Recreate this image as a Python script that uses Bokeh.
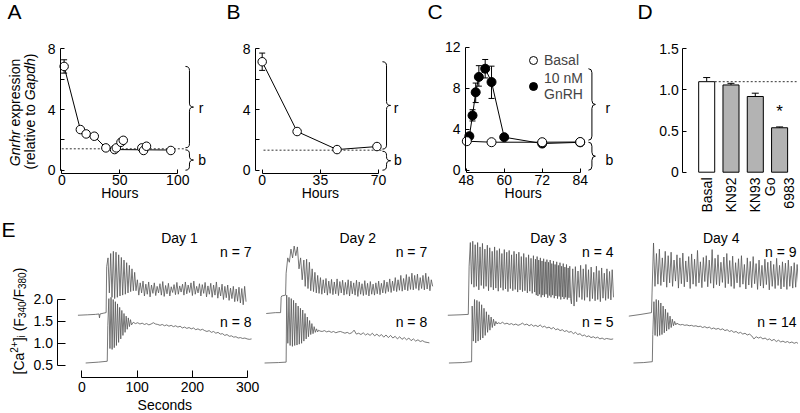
import math
import numpy as np
from bokeh.plotting import figure
from bokeh.layouts import column, row
from bokeh.models import (Label, FixedTicker, Whisker, TeeHead, ColumnDataSource,
                          Legend, LegendItem, Range1d)
from bokeh.embed import file_html
from bokeh.resources import INLINE

FONT = "Liberation Sans"
TRACE = "#555555"

# ---------------- Panel A ----------------
A_hours = [2, 16, 21, 28, 38, 45.5, 47, 51, 53, 69, 70.5, 73, 94]
A_expr = [6.84, 2.68, 2.39, 2.24, 1.47, 1.36, 1.47, 1.84, 1.97, 1.47, 1.30, 1.58, 1.30]
A_line_hours = [2, 16, 21, 28, 38, 45.5, 94]
A_line_expr = [6.84, 2.68, 2.39, 2.24, 1.47, 1.36, 1.33]
A_err_hours = [2]
A_err_low = [6.40]
A_err_high = [7.28]
A_baseline = 1.41

# ---------------- Panel B ----------------
B_hours = [0, 21, 45, 69]
B_expr = [7.15, 2.55, 1.36, 1.56]
B_err_hours = [0]
B_err_low = [6.58]
B_err_high = [7.72]
B_baseline = 1.32

# ---------------- Panel C ----------------
C_basal_h = [48.2, 56, 72, 84]
C_basal_v = [2.83, 2.73, 2.73, 2.75]
C_gnrh_h = [49, 50, 51, 52, 54, 56, 60, 72, 84]
C_gnrh_v = [3.32, 5.34, 7.6, 9.1, 9.9, 8.6, 3.22, 2.6, 2.72]
C_gnrh_lo = [3.05, 4.8, 6.6, 8.2, 9.0, 7.0, 3.0, 2.45, 2.6]
C_gnrh_hi = [3.6, 5.9, 8.5, 10.2, 10.8, 10.15, 3.45, 2.75, 2.85]

# ---------------- Panel D ----------------
D_labels = ["Basal", "KN92", "KN93", "Go\n6983"]
D_values = [1.10, 1.06, 0.92, 0.54]
D_err_high = [1.15, 1.08, 0.96, 0.55]
D_colors = ["white", "#b3b3b3", "#b3b3b3", "#b3b3b3"]

# ---------------- Panel E traces ----------------
# Day 1, n = 7
D1U_base_t = [-7, 10, 25, 31, 32, 33, 40, 44]
D1U_base_v = [1.64, 1.65, 1.66, 1.67, 1.58, 1.67, 1.69, 1.70]
D1U_osc1 = [2.75, 2.95, 2.15, 3.05, 2.05, 3.10, 2.02, 3.08, 2.05, 3.02, 2.08, 2.96, 2.10, 2.90,
            2.12, 2.84, 2.15, 2.78, 2.18, 2.70, 2.20, 2.62, 2.20]
D1U_osc2 = [2.45, 2.10, 2.38, 2.15, 2.42, 2.08, 2.35, 2.12, 2.40, 2.06, 2.33, 2.14, 2.38, 2.09,
            2.30, 2.15, 2.36, 2.10, 2.41, 2.07, 2.32, 2.13, 2.37, 2.08, 2.29, 2.16, 2.34, 2.11,
            2.39, 2.12, 2.31, 2.17, 2.35, 2.10, 2.40, 2.13, 2.33, 2.16, 2.38, 2.09, 2.42, 2.12,
            2.30, 2.15, 2.36, 2.08, 2.34, 2.14, 2.39, 2.06, 2.31, 2.12, 2.37, 2.05, 2.33, 2.10,
            2.40, 2.03, 2.28, 2.08, 2.35, 2.00, 2.30, 2.04, 2.33, 1.98, 2.26, 2.02, 2.30, 1.95,
            2.24, 1.96, 2.28, 1.92, 2.25, 1.88, 2.30, 1.95]
# Day 1, n = 8
D1L_base_t = [7, 30, 46]
D1L_base_v = [0.55, 0.57, 0.59]
D1L_osc1 = [1.40, 2.02, 0.88, 2.05, 0.86, 2.00, 0.90, 1.95, 0.95, 1.90, 1.02, 1.82, 1.10, 1.75,
            1.18, 1.68, 1.25, 1.62, 1.32, 1.58, 1.38, 1.54, 1.42]
D1L_plat = [1.48, 1.45, 1.47, 1.44, 1.46, 1.43, 1.45, 1.42, 1.44, 1.47, 1.44, 1.43, 1.41, 1.43,
            1.40, 1.42, 1.39, 1.41, 1.38, 1.40, 1.37, 1.39, 1.35, 1.37, 1.34, 1.36, 1.33, 1.35,
            1.31, 1.33, 1.30, 1.32, 1.29, 1.27, 1.29, 1.25, 1.27, 1.23, 1.25, 1.21, 1.22, 1.18,
            1.20, 1.16, 1.17, 1.14, 1.15, 1.12, 1.13, 1.11, 1.12, 1.10, 1.09, 1.10]
# Day 2, n = 7
D2U_base_t = [-7, 10, 19, 20, 21, 28]
D2U_base_v = [1.68, 1.70, 1.70, 2.05, 2.08, 2.10]
D2U_osc1 = [2.60, 2.95, 2.85, 3.15, 2.95, 3.22, 3.00, 3.20, 2.70, 2.95, 2.45, 2.90]
D2U_osc2 = [2.30, 2.92, 2.25, 2.85, 2.20, 2.70, 2.18, 2.62, 2.15, 2.55, 2.14, 2.50, 2.12, 2.45,
            2.15, 2.48, 2.10, 2.42, 2.14, 2.46, 2.11, 2.40, 2.13, 2.47, 2.09, 2.41, 2.15, 2.44,
            2.10, 2.39, 2.12, 2.45, 2.08, 2.42, 2.13, 2.38, 2.10, 2.44, 2.07, 2.40, 2.12, 2.36,
            2.09, 2.43, 2.11, 2.37, 2.08, 2.41, 2.12, 2.35, 2.10, 2.38, 2.13, 2.42, 2.11, 2.37,
            2.15, 2.44, 2.14, 2.40, 2.18, 2.47, 2.16, 2.42, 2.20, 2.50, 2.18, 2.45, 2.21, 2.55,
            2.19, 2.48, 2.22, 2.57, 2.20, 2.52, 2.23, 2.60, 2.22, 2.55, 2.25, 2.58, 2.21, 2.50,
            2.25, 2.55, 2.22, 2.60, 2.24, 2.52, 2.20, 2.45, 2.30]
# Day 2, n = 8
D2L_base_t = [-10, 15, 29]
D2L_base_v = [0.55, 0.56, 0.57]
D2L_osc1 = [2.10, 1.00, 2.05, 0.95, 2.02, 0.93, 1.98, 0.95, 1.92, 0.96, 1.85, 0.98, 1.80, 1.00,
            1.76, 1.05, 1.68, 1.10, 1.60, 1.15, 1.52, 1.20, 1.45, 1.22, 1.38, 1.25, 1.33, 1.26, 1.30]
D2L_plat = [1.28, 1.27, 1.29, 1.26, 1.28, 1.25, 1.27, 1.24, 1.26, 1.27, 1.25, 1.23, 1.25, 1.22,
            1.24, 1.30, 1.21, 1.23, 1.20, 1.24, 1.19, 1.22, 1.18, 1.23, 1.17, 1.21, 1.16, 1.20,
            1.14, 1.19, 1.13, 1.18, 1.12, 1.16, 1.10, 1.15, 1.09, 1.13, 1.08, 1.12, 1.06, 1.10,
            1.05, 1.08, 1.04, 1.06, 1.03, 1.02, 1.01]
# Day 3, n = 4
D3U_base_t = [-7, 15, 30]
D3U_base_v = [1.64, 1.65, 1.66]
D3U_osc1 = [2.76, 3.30, 2.35, 3.33, 2.28, 3.25, 2.30, 3.30, 2.22, 3.20, 2.32, 3.28, 2.25, 3.15,
            2.30, 3.24, 2.20, 3.18, 2.28, 3.10, 2.22, 3.20, 2.26, 3.12, 2.19, 3.16, 2.27, 3.05,
            2.21, 3.14, 2.24, 3.08, 2.18, 3.12, 2.25, 3.02, 2.20, 3.10, 2.23, 3.04, 2.17, 3.08,
            2.22, 2.98, 2.18, 3.05, 2.20, 2.96, 2.15, 3.02, 2.19, 2.94, 2.14, 3.00, 2.17]
D3U_osc2 = [2.92, 2.10, 2.98, 2.08, 2.90, 2.12, 2.95, 2.05, 2.88, 2.10, 2.93, 2.06, 2.86, 2.12,
            2.91, 2.04, 2.85, 2.09, 2.90, 2.05, 2.82, 2.10, 2.88, 2.03, 2.80, 2.08, 2.86, 2.02,
            2.78, 2.07, 2.84, 2.00, 2.76, 2.06, 2.82, 2.01, 2.74, 2.05, 2.80, 2.00, 2.72, 2.04,
            2.76, 2.02]
D3U_osc3 = [1.90, 2.70, 1.85, 2.75, 1.95, 2.65, 2.05, 2.78, 2.00, 2.70, 1.98, 2.80, 2.05, 2.68,
            1.96, 2.74, 2.02, 2.62, 1.97, 2.76, 2.00, 2.66, 1.95, 2.72, 2.03, 2.60, 1.98, 2.70,
            2.02, 2.64, 1.99, 2.68, 2.05]
# Day 3, n = 5
D3L_base_t = [-5, 20, 36]
D3L_base_v = [0.55, 0.56, 0.58]
D3L_osc1 = [1.85, 1.05, 2.00, 1.01, 1.98, 1.05, 1.95, 1.08, 1.88, 1.12, 1.80, 1.18, 1.72, 1.25,
            1.65, 1.30, 1.60, 1.36, 1.55, 1.40, 1.50, 1.44]
D3L_plat = [1.47, 1.45, 1.48, 1.44, 1.46, 1.43, 1.45, 1.42, 1.44, 1.41, 1.43, 1.46, 1.42, 1.44,
            1.40, 1.43, 1.39, 1.41, 1.38, 1.42, 1.37, 1.39, 1.35, 1.37, 1.33, 1.36, 1.31, 1.33,
            1.29, 1.31, 1.27, 1.29, 1.25, 1.27, 1.22, 1.25, 1.20, 1.22, 1.17, 1.19, 1.15, 1.17,
            1.13, 1.15, 1.12, 1.14, 1.10, 1.12, 1.09, 1.11, 1.10, 1.09, 1.10]
# Day 4, n = 9
D4U_base_t = [-7, 15, 34]
D4U_base_v = [1.62, 1.66, 1.70]
D4U_osc1 = [2.15, 3.29, 2.30, 3.05, 2.35, 3.15, 2.32, 2.95, 2.40, 3.10, 2.28, 3.00, 2.38, 3.08,
            2.30, 2.90, 2.42, 3.02, 2.26, 2.95, 2.36, 3.06, 2.29, 2.88, 2.40, 2.98, 2.25, 3.04,
            2.35, 2.92, 2.30, 3.12, 2.38, 2.86, 2.27, 2.96, 2.41, 3.00, 2.29, 2.90, 2.37, 3.14,
            2.26, 2.94, 2.34, 3.02, 2.31, 2.85, 2.39, 2.97, 2.27, 3.05, 2.36, 2.89, 2.30, 2.99,
            2.25, 2.84, 2.38, 2.93, 2.28, 3.00, 2.35, 2.80, 2.24, 2.95, 2.33, 2.87, 2.27, 2.98,
            2.36, 2.82, 2.23, 2.90, 2.31, 2.78, 2.26, 2.92, 2.34, 2.85, 2.22, 2.88, 2.30, 2.80,
            2.25, 2.94, 2.32, 2.78, 2.24, 2.86, 2.29, 2.83, 2.23, 2.90, 2.30, 2.76, 2.26, 2.84,
            2.28, 2.80, 2.35]
# Day 4, n = 14
D4L_base_t = [1.4, 20, 35.5]
D4L_base_v = [0.55, 0.56, 0.58]
D4L_osc1 = [1.20, 1.95, 1.18, 2.00, 1.16, 1.98, 1.18, 1.92, 1.20, 1.85, 1.24, 1.78, 1.28, 1.70,
            1.32, 1.62, 1.36, 1.55, 1.40, 1.50, 1.42, 1.46]
D4L_plat = [1.44, 1.42, 1.43, 1.41, 1.42, 1.40, 1.41, 1.39, 1.40, 1.38, 1.39, 1.36, 1.38, 1.35,
            1.37, 1.33, 1.35, 1.32, 1.34, 1.31, 1.33, 1.29, 1.31, 1.27, 1.29, 1.25, 1.27, 1.23,
            1.25, 1.21, 1.23, 1.19, 1.21, 1.17, 1.10, 1.15, 1.12, 1.14, 1.10, 1.12, 1.08, 1.10,
            1.06, 1.09, 1.04, 1.07, 1.03, 1.05, 1.02, 1.04, 1.01, 1.03, 1.00, 1.02, 0.99]

E_days = ["Day 1", "Day 2", "Day 3", "Day 4"]
E_n_upper = ["n = 7", "n = 7", "n = 4", "n = 9"]
E_n_lower = ["n = 8", "n = 8", "n = 5", "n = 14"]


def assemble(base_t, base_v, segments):
    t = list(base_t)
    v = list(base_v)
    for t0, t1, vals in segments:
        t += list(np.linspace(t0, t1, len(vals)))
        v += list(vals)
    return t, v


# ---------------- helpers ----------------
def new_fig(width, height, xr, yr, xloc=None, yloc=None):
    p = figure(width=width, height=height, x_range=Range1d(*xr), y_range=Range1d(*yr),
               output_backend="svg", toolbar_location=None,
               x_axis_location=xloc, y_axis_location=yloc,
               min_border_left=0, min_border_right=0, min_border_top=0,
               min_border_bottom=0)
    p.outline_line_color = None
    p.grid.visible = False
    p.background_fill_color = "white"
    p.border_fill_color = "white"
    return p


def style_axis(ax, ticks, bounds, at, minor=None, overrides=None, tick_len=4, standoff=3):
    ax.fixed_location = at
    ax.ticker = FixedTicker(ticks=ticks, minor_ticks=minor or [])
    ax.bounds = bounds
    if overrides:
        ax.major_label_overrides = overrides
    ax.major_tick_in = tick_len
    ax.major_tick_out = 0
    ax.minor_tick_in = tick_len
    ax.minor_tick_out = 0
    ax.axis_line_color = "black"
    ax.major_tick_line_color = "black"
    ax.minor_tick_line_color = "black"
    ax.major_label_text_font = FONT
    ax.major_label_text_font_size = "14px"
    ax.major_label_text_color = "black"
    ax.major_label_standoff = standoff


def txt(p, fl, fb, sx, sy, text, size="14px", align="center", baseline="middle",
        angle=0.0, style="normal"):
    p.add_layout(Label(x=sx - fl, y=fb - sy, x_units="screen", y_units="screen", text=text,
                       text_font=FONT, text_font_size=size, text_align=align,
                       text_baseline=baseline, angle=angle, text_font_style=style,
                       text_color="black"))


def brace(p, x0, x1, ytop, ybot, r):
    xm = (x0 + x1) / 2.0
    ym = (ytop + ybot) / 2.0
    p.quadratic(x0=[x0, xm, xm, xm], y0=[ytop, ym + r, ym - r, ybot + r],
                x1=[xm, x1, x1, x0], y1=[ytop - r, ym, ym, ybot],
                cx=[xm, xm, xm, xm], cy=[ytop, ym, ym, ybot],
                line_color="black", line_width=1)
    p.segment(x0=[xm, xm], y0=[ytop - r, ym - r], x1=[xm, xm], y1=[ym + r, ybot + r],
              line_color="black", line_width=1)


def whisk(p, xs, lo, hi, size=6):
    src = ColumnDataSource(dict(x=xs, lo=lo, hi=hi))
    w = Whisker(base="x", lower="lo", upper="hi", source=src, line_color="black",
                line_width=1, upper_head=TeeHead(size=size, line_color="black", line_width=1),
                lower_head=TeeHead(size=size, line_color="black", line_width=1),
                level="underlay")
    p.add_layout(w)


PI2 = math.pi / 2
TOP_H = 217
BOT_H = 194
TOP_B = 218   # window y of the bottom of the top row
BOT_B = 412   # window y of the bottom of the lower row

# ---------------- Panel A ----------------
pA = new_fig(214, TOP_H, (-52.84, 131.64), (-3.118, 11.187), "below", "left")
style_axis(pA.yaxis[0], [0, 4, 8], (0, 8), -1.12, minor=[2, 6], standoff=5)
style_axis(pA.xaxis[0], [0, 50, 100], (0, 100), -0.185, standoff=2)
whisk(pA, A_err_hours, A_err_low, A_err_high)
pA.line([0, 106], [A_baseline, A_baseline], line_color="#333333", line_width=1, line_dash="2 2")
pA.line(A_line_hours, A_line_expr, line_color="black", line_width=1)
pA.scatter(A_hours, A_expr, size=8.5, marker="circle", fill_color="white", line_color="black",
           line_width=1)
rA = 4 / 15.17
brace(pA, 106.6, 113.5, A_expr[0], A_baseline + 0.07, rA)
brace(pA, 106.6, 113.5, A_baseline - 0.07, 0, rA)
flA = 1
txt(pA, flA, TOP_B, 201.7, 108, "r")
txt(pA, flA, TOP_B, 202.7, 160, "b")
txt(pA, flA, TOP_B, 120.3, 193, "Hours")
txt(pA, flA, TOP_B, 8, 0, "A", size="21px", align="left", baseline="top")
txt(pA, flA, TOP_B, 15, 166.7, "Gnrhr", align="left", angle=PI2, style="italic")
txt(pA, flA, TOP_B, 15, 127.0, "expression", align="left", angle=PI2)
txt(pA, flA, TOP_B, 30, 170.0, "(relative to", align="left", angle=PI2)
txt(pA, flA, TOP_B, 30, 100.8, "Gapdh", align="left", angle=PI2, style="italic")
txt(pA, flA, TOP_B, 30, 58.8, ")", align="left", angle=PI2)

# ---------------- Panel B ----------------
pB = new_fig(195, TOP_H, (-28.68, 88.57), (-3.118, 11.187), "below", "left")
style_axis(pB.yaxis[0], [0, 4, 8], (0, 8), -4.03, minor=[2, 6], standoff=5)
style_axis(pB.xaxis[0], [0, 35, 70], (0, 70), -0.185, standoff=2)
whisk(pB, B_err_hours, B_err_low, B_err_high)
pB.line([0.8, 72.4], [B_baseline, B_baseline], line_color="#333333", line_width=1, line_dash="2 2")
pB.line(B_hours, B_expr, line_color="black", line_width=1)
pB.scatter(B_hours, B_expr, size=8.5, marker="circle", fill_color="white", line_color="black",
           line_width=1)
brace(pB, 72.3, 77.2, B_expr[0], B_baseline + 0.07, rA)
brace(pB, 72.3, 77.2, B_baseline - 0.07, 0, rA)
flB = 215
txt(pB, flB, TOP_B, 396.7, 108, "r")
txt(pB, flB, TOP_B, 398.3, 160, "b")
txt(pB, flB, TOP_B, 320.9, 193, "Hours")
txt(pB, flB, TOP_B, 227, 0, "B", size="21px", align="left", baseline="top")

# ---------------- Panel C ----------------
pC = new_fig(205, TOP_H, (30.10, 94.83), (-4.615, 16.556), "below", "left")
style_axis(pC.yaxis[0], [0, 4, 8, 12], (0, 12), 47.78, standoff=5)
style_axis(pC.xaxis[0], [48, 60, 72, 84], (48, 84), -0.273, standoff=2)
whisk(pC, C_gnrh_h, C_gnrh_lo, C_gnrh_hi)
pC.line(C_gnrh_h, C_gnrh_v, line_color="black", line_width=1)
pC.line(C_basal_h, C_basal_v, line_color="black", line_width=1)
rg = pC.scatter(C_gnrh_h, C_gnrh_v, size=9, marker="circle", fill_color="black",
                line_color="black")
rb = pC.scatter(C_basal_h, C_basal_v, size=9, marker="circle", fill_color="white",
                line_color="black", line_width=1)
rC = 4 / 10.25
brace(pC, 86.6, 88.8, max(C_gnrh_v), C_basal_v[0] + 0.1, rC)
brace(pC, 86.6, 88.8, C_basal_v[0] - 0.1, 0, rC)
leg = Legend(items=[LegendItem(label="Basal", renderers=[rb]),
                    LegendItem(label="10 nM\nGnRH", renderers=[rg])],
             location=(114, 115), border_line_color=None, background_fill_alpha=0,
             padding=0, margin=0, spacing=0, label_text_font=FONT,
             label_text_font_size="14px", label_standoff=1, glyph_width=20,
             glyph_height=20, label_height=16)
pC.add_layout(leg)
flC = 410
txt(pC, flC, TOP_B, 608.3, 108, "r")
txt(pC, flC, TOP_B, 610, 160, "b")
txt(pC, flC, TOP_B, 523.7, 193, "Hours")
txt(pC, flC, TOP_B, 428, 0, "C", size="21px", align="left", baseline="top")

# ---------------- Panel D ----------------
pD = new_fig(184, TOP_H, (-3.794, 3.778), (-0.5504, 2.0863), None, "left")
style_axis(pD.yaxis[0], [0, 0.5, 1.0, 1.5], (0, 1.5), -0.984,
           overrides={0: "0", 0.5: "0.5", 1: "1.0", 1.5: "1.5"}, standoff=4)
D_x = list(range(len(D_values)))
pD.vbar(x=D_x, top=D_values, width=0.66, fill_color=D_colors, line_color="black", line_width=1)
srcD = ColumnDataSource(dict(x=D_x, lo=D_values, hi=D_err_high))
pD.add_layout(Whisker(base="x", lower="lo", upper="hi", source=srcD, line_color="black",
                      upper_head=TeeHead(size=7, line_color="black"), lower_head=None))
pD.line([0.33, 3.7], [D_values[0], D_values[0]], line_color="#333333", line_width=1,
        line_dash="2 2")
flD = 615
for i, lab in enumerate(D_labels):
    pD.add_layout(Label(x=D_x[i], y=TOP_B - 178, x_units="data", y_units="screen", text=lab,
                        text_font=FONT, text_font_size="14px", text_align="right",
                        text_baseline="middle", angle=PI2, text_color="black"))
pD.add_layout(Label(x=D_x[3], y=0.62, text="*", text_font=FONT, text_font_size="17px",
                    text_align="center", text_baseline="bottom", text_color="black"))
txt(pD, flD, TOP_B, 638, 0, "D", size="21px", align="left", baseline="top")

# ---------------- Panel E ----------------
E_yr = (-0.5571, 3.872)
pE1 = new_fig(262, BOT_H, (-147.02, 326.77), E_yr, "below", "left")
pE2 = new_fig(179, BOT_H, (-13.74, 309.95), E_yr)
pE3 = new_fig(182, BOT_H, (-18.44, 310.67), E_yr)
pE4 = new_fig(175, BOT_H, (-16.64, 299.82), E_yr)
style_axis(pE1.yaxis[0], [0.5, 1.0, 1.5, 2.0], (0.5, 2.0), -43.04,
           overrides={0.5: "0.5", 1: "1.0", 1.5: "1.5", 2: "2.0"}, tick_len=8, standoff=5)
style_axis(pE1.xaxis[0], [0, 100, 200, 300], (0, 300), 0.2123, tick_len=7, standoff=4)

traces = [
    (pE1, assemble(D1U_base_t, D1U_base_v, [(45, 98, D1U_osc1), (100.5, 297, D1U_osc2)])),
    (pE1, assemble(D1L_base_t, D1L_base_v, [(47, 90, D1L_osc1), (93, 307, D1L_plat)])),
    (pE2, assemble(D2U_base_t, D2U_base_v, [(29, 61, D2U_osc1), (63.5, 294, D2U_osc2)])),
    (pE2, assemble(D2L_base_t, D2L_base_v, [(30, 88, D2L_osc1), (90, 288, D2L_plat)])),
    (pE3, assemble(D3U_base_t, D3U_base_v, [(31.5, 150, D3U_osc1), (151.5, 215, D3U_osc2),
                                            (216.5, 292.6, D3U_osc3)])),
    (pE3, assemble(D3L_base_t, D3L_base_v, [(37, 82, D3L_osc1), (84, 292, D3L_plat)])),
    (pE4, assemble(D4U_base_t, D4U_base_v, [(35, 300, D4U_osc1)])),
    (pE4, assemble(D4L_base_t, D4L_base_v, [(36.3, 80, D4L_osc1), (82, 300, D4L_plat)])),
]
for fig, (tt, vv) in traces:
    fig.line(tt, vv, line_color=TRACE, line_width=0.8)

E_frames = [(pE1, 1, 180, 252), (pE2, 263, 358.3, 427.7), (pE3, 442, 549, 614),
            (pE4, 624, 721.7, 797)]
for k, (fig, fl, cx, rx) in enumerate(E_frames):
    txt(fig, fl, BOT_B, cx, 238, E_days[k])
    txt(fig, fl, BOT_B, rx, 252.7, E_n_upper[k], align="right")
    txt(fig, fl, BOT_B, rx, 322.7, E_n_lower[k], align="right")

txt(pE1, 1, BOT_B, 165.3, 405, "Seconds")
txt(pE1, 1, BOT_B, 2, 218, "E", size="21px", align="left", baseline="top")
# y label: [Ca2+]i (F340/F380)
yl = [("[Ca", 19, 375.0, "14px"), ("2+", 14, 353.2, "10px"), ("]", 19, 341.8, "14px"),
      ("i", 22, 337.9, "10px"), ("(F", 19, 331.8, "14px"), ("340", 22, 318.6, "10px"),
      ("/F", 19, 301.9, "14px"), ("380", 22, 289.5, "10px"), (")", 19, 272.8, "14px")]
for s, sx, sy, fs in yl:
    txt(pE1, 1, BOT_B, sx, sy, s, size=fs, align="left", angle=PI2)

layout = column(row(pA, pB, pC, pD), row(pE1, pE2, pE3, pE4))
open("out.html", "w").write(file_html(layout, INLINE))
